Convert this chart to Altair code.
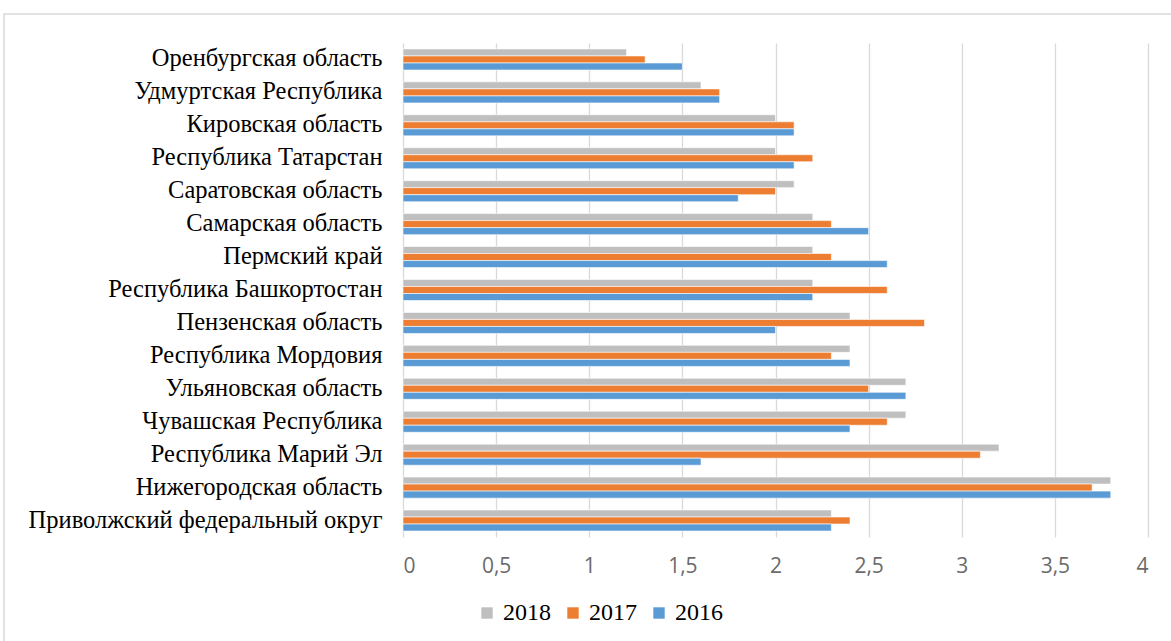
import altair as alt
import pandas as pd

regions = [
    "Оренбургская область",
    "Удмуртская Республика",
    "Кировская область",
    "Республика Татарстан",
    "Саратовская область",
    "Самарская область",
    "Пермский край",
    "Республика Башкортостан",
    "Пензенская область",
    "Республика Мордовия",
    "Ульяновская область",
    "Чувашская Республика",
    "Республика Марий Эл",
    "Нижегородская область",
    "Приволжский федеральный округ",
]
years = ["2018", "2017", "2016"]
v2018 = [1.2, 1.6, 2.0, 2.0, 2.1, 2.2, 2.2, 2.2, 2.4, 2.4, 2.7, 2.7, 3.2, 3.8, 2.3]
v2017 = [1.3, 1.7, 2.1, 2.2, 2.0, 2.3, 2.3, 2.6, 2.8, 2.3, 2.5, 2.6, 3.1, 3.7, 2.4]
v2016 = [1.5, 1.7, 2.1, 2.1, 1.8, 2.5, 2.6, 2.2, 2.0, 2.4, 2.7, 2.4, 1.6, 3.8, 2.3]
colors = ["#BFBFBF", "#ED7D31", "#5B9BD5"]

rows = []
for year, vals in zip(years, [v2018, v2017, v2016]):
    for region, v in zip(regions, vals):
        rows.append({"region": region, "year": year, "value": v})
df = pd.DataFrame(rows)

W, H = 745, 494
SERIF = "Liberation Serif, Times New Roman, DejaVu Serif, serif"

bars = alt.Chart(df).mark_bar(stroke="white", strokeWidth=0.6).encode(
    x=alt.X(
        "value:Q",
        scale=alt.Scale(domain=[0, 4], nice=False),
        axis=alt.Axis(
            values=[0, 0.5, 1, 1.5, 2, 2.5, 3, 3.5, 4],
            labelExpr="replace(toString(datum.value), '.', ',')",
            title=None,
            domain=False,
            ticks=False,
            grid=True,
            gridColor="#D9D9D9",
            gridWidth=1.3,
            labelFont="Open Sans",
            labelFontSize=21,
            labelColor="#6B6B6B",
            labelPadding=18,
        ),
    ),
    y=alt.Y(
        "region:N",
        sort=regions,
        scale=alt.Scale(paddingInner=0.36, paddingOuter=0.18),
        axis=alt.Axis(
            title=None,
            domain=False,
            ticks=False,
            labelFont=SERIF,
            labelFontSize=24.5,
            labelColor="#000000",
            labelPadding=21,
            labelLimit=420,
        ),
    ),
    yOffset=alt.YOffset("year:N", sort=years, scale=alt.Scale(paddingInner=0, paddingOuter=0)),
    color=alt.Color(
        "year:N",
        sort=years,
        scale=alt.Scale(domain=years, range=colors),
        legend=alt.Legend(
            title=None,
            orient="none",
            direction="horizontal",
            legendX=72,
            legendY=558,
            symbolType="square",
            symbolSize=130,
            symbolStrokeWidth=0,
            labelFont=SERIF,
            labelFontSize=24,
            labelColor="#000000",
            labelOffset=4,
            columnPadding=10,
        ),
    ),
)

# outer chart frame
frame = alt.Chart(pd.DataFrame({"k": [0]})).mark_rect(
    fill=None, stroke="#D9D9D9", strokeWidth=1.5
).encode(
    x=alt.value(-399), x2=alt.value(W + 40), y=alt.value(-29), y2=alt.value(H + 150)
)

chart = (
    alt.layer(frame, bars)
    .properties(
        width=W,
        height=H,
        padding={"left": 403, "top": 43, "right": 23, "bottom": 104},
        autosize=alt.AutoSizeParams(type="none"),
        background="white",
    )
    .configure_view(stroke=None)
)

chart.save("out.html", embed_options={"renderer": "svg", "actions": False})
